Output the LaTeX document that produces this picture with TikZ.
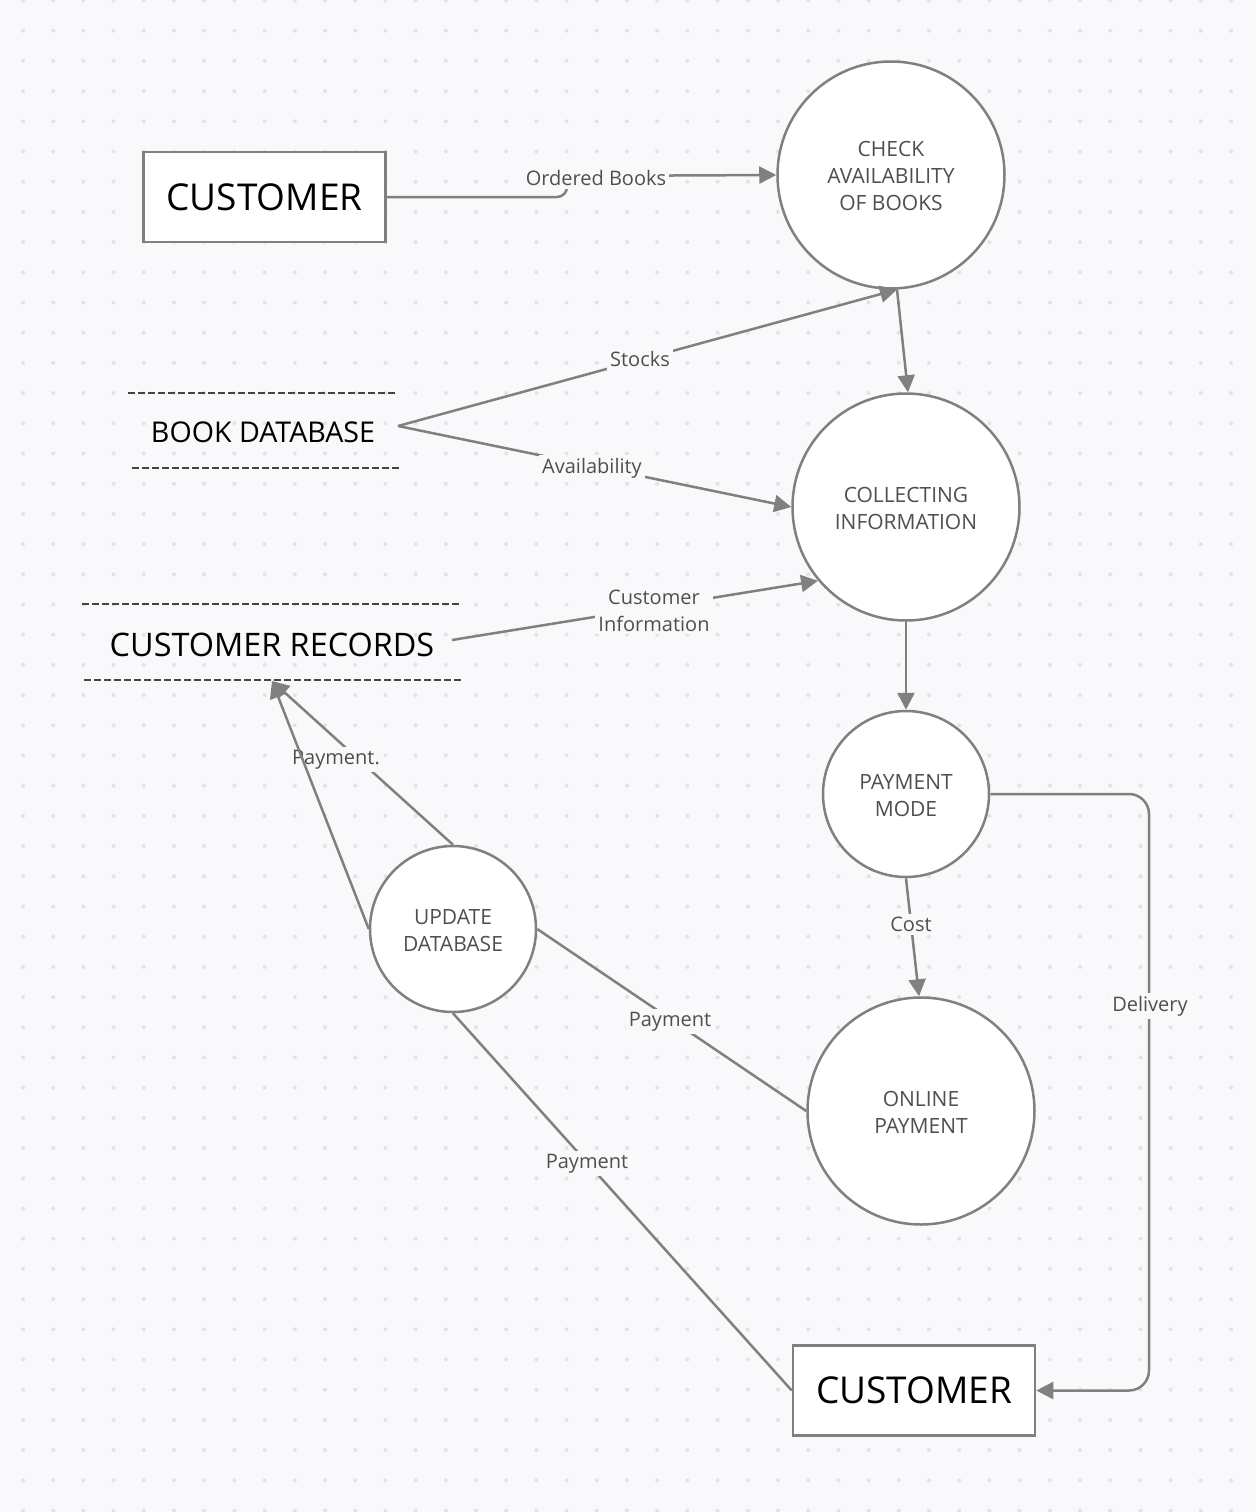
\documentclass[tikz,border=0pt]{standalone}
\usepackage{fontspec}
\setmainfont{Open Sans}
\usetikzlibrary{arrows.meta,calc}
\definecolor{bgc}{HTML}{F9F9FB}
\definecolor{dotc}{HTML}{E3E3E7}
\definecolor{linec}{HTML}{808080}
\definecolor{txtc}{HTML}{4F4F4F}
\definecolor{dashc}{HTML}{444444}
\begin{document}
\begin{tikzpicture}[x=0.5pt,y=-0.5pt,
  proc/.style={circle,draw=linec,line width=1.25pt,fill=white,text=txtc,align=center,font=\fontsize{10.5}{13.5}\selectfont,inner sep=0pt},
  ptext/.style={text=txtc,align=center,font=\fontsize{10.5}{13.5}\selectfont,inner sep=0pt},
  entity/.style={rectangle,draw=linec,line width=1.25pt,fill=white,text=black,font=\fontsize{18.5}{22}\selectfont,minimum width=121pt,minimum height=45pt,inner sep=0pt},
  store/.style={text=black,inner sep=0pt},
  conn/.style={draw=linec,line width=1.25pt},
  arr/.style={conn,-{Triangle[length=8.5pt,width=8.5pt]}},
  lbl/.style={fill=bgc,text=txtc,font=\fontsize{10}{13.5}\selectfont,inner sep=1.5pt,align=center,yshift=-1.2pt},
  dline/.style={draw=dashc,line width=1.1pt,dash pattern=on 3.5pt off 1.5pt}]
\useasboundingbox (0,0) rectangle (1256,1512);
\fill[bgc] (0,0) rectangle (1256,1512);
\clip (0,0) rectangle (1256,1512);
\foreach \i in {0,...,40}{\foreach \j in {0,...,50}{\fill[dotc] ({23+30.2*\i},{0.5+30.2*\j}) circle (1pt);}}
% nodes
\node[entity] (cust1) at (264.5,197) {CUSTOMER};
\node[entity] (cust2) at (914,1390.5) {CUSTOMER};
\node[proc,minimum size=113.5pt] (check) at (891,175) {};
\node[proc,minimum size=113.5pt] (collect) at (906,507) {};
\node[proc,minimum size=83pt] (pm) at (906,794) {};
\node[proc,minimum size=113.5pt] (online) at (921,1111) {};
\node[proc,minimum size=83pt] (upd) at (453,929) {};
\node[ptext] (checkt) at (891,176) {CHECK\\AVAILABILITY\\OF BOOKS};
\node[ptext] (collectt) at (906,508) {COLLECTING\\INFORMATION};
\node[ptext] (pmt) at (906,795.5) {PAYMENT\\MODE};
\node[ptext] (onlinet) at (921,1112) {ONLINE\\PAYMENT};
\node[ptext] (updt) at (453,931) {UPDATE\\DATABASE};
\node[store,font=\fontsize{14.3}{17}\selectfont] (bd) at (263,432) {BOOK DATABASE};
\node[store,font=\fontsize{16.2}{19}\selectfont] (cr) at (272,645) {CUSTOMER RECORDS};
% store lines
\coordinate (bdt1) at (128,393); \coordinate (bdt2) at (398,393);
\coordinate (bdb1) at (132,468); \coordinate (bdb2) at (402,468);
\coordinate (crt1) at (82,604); \coordinate (crt2) at (461,604);
\coordinate (crb1) at (84,680); \coordinate (crb2) at (463,680);
\draw[dline] (bdt1) -- (bdt2);
\draw[dline] (bdb1) -- (bdb2);
\draw[dline] (crt1) -- (crt2);
\draw[dline] (crb1) -- (crb2);
\coordinate (bdout) at (398,426);
\coordinate (crout) at (452,640);
\coordinate (crtip) at (272,681);
\coordinate (ob1) at (567,197);
\coordinate (ob2) at (567,176);
\coordinate (dl1) at (1149,794);
\coordinate (dl2) at (1149,1390.5);
% connectors
\draw[arr,rounded corners=5pt] (cust1.east) -- (ob1) -- (ob2) -- (check.west);
\node[lbl] (lob) at (596,176) {Ordered Books};
\draw[arr] (bdout) -- (check.-87);
\node[lbl] (lst) at (640,357) {Stocks};
\draw[arr] (bdout) -- (collect.west);
\node[lbl] (lav) at (592,466) {Availability};
\draw[arr] (check.-87) -- (collect.89.5);
\draw[arr] (crout) -- (collect.220);
\node[lbl] (lci) at (654,608) {Customer\\Information};
\draw[arr] (collect.south) -- (pm.north);
\draw[arr] (pm.south) -- (online.91.5);
\node[lbl] (lco) at (911,922) {Cost};
\draw[arr,rounded corners=10pt] (pm.east) -- (dl1) -- (dl2) -- (cust2.east);
\node[lbl] (lde) at (1150,1004) {Delivery};
\draw[arr] (upd.north) -- (crtip);
\node[lbl] (lpd) at (336,757) {Payment.};
\draw[arr] (upd.west) -- (crtip);
\draw[conn] (online.west) -- (upd.east);
\node[lbl] (lp1) at (670,1019) {Payment};
\draw[conn] (upd.south) -- (cust2.west);
\node[lbl] (lp2) at (587,1161) {Payment};
\end{tikzpicture}
\end{document}
